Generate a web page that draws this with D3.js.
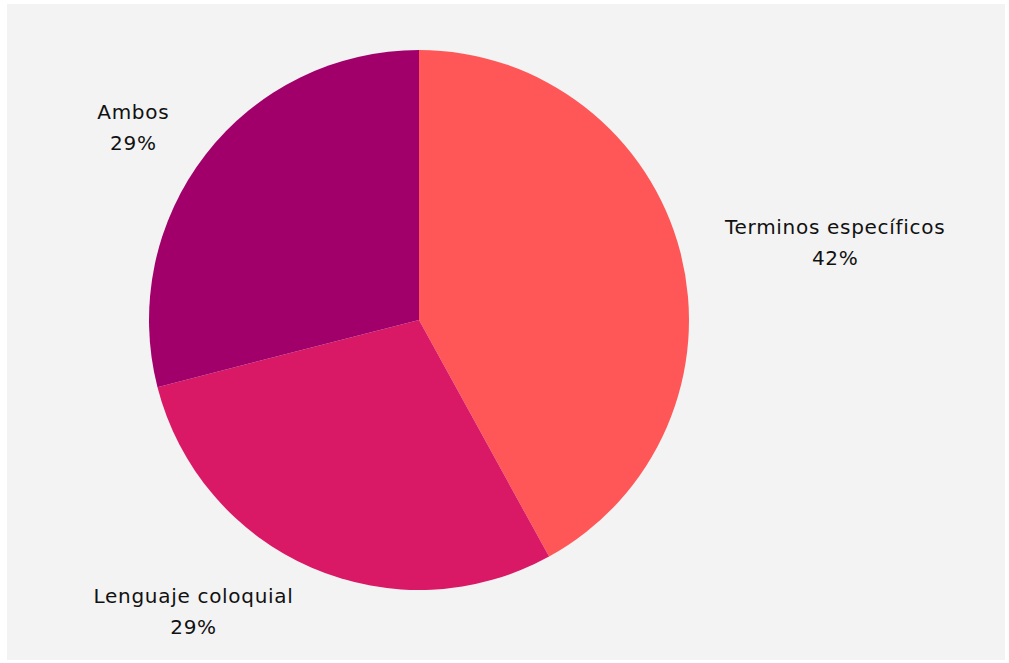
<!DOCTYPE html>
<meta charset="utf-8">
<style>
  body { margin: 0; background: #fff; }
  .label { font-family: "DejaVu Sans", sans-serif; font-size: 20px; letter-spacing: 0.7px; fill: #111; }
</style>
<body>
<svg width="1009" height="663"></svg>
<script src="https://cdn.jsdelivr.net/npm/d3@7"></script>
<script>

var categories = ["Terminos específicos", "Lenguaje coloquial", "Ambos"];
var values = [42, 29, 29];
var colors = ["#ff5757", "#d91866", "#a1006b"];

var svg = d3.select("svg"),
    width = +svg.attr("width"),
    height = +svg.attr("height");

svg.append("rect")
    .attr("x", 7).attr("y", 4)
    .attr("width", 998).attr("height", 656)
    .attr("fill", "#f3f3f3");

var radius = 270,
    cx = 419, cy = 320;

var data = categories.map(function(c, i) { return {name: c, value: values[i], color: colors[i]}; });

var pie = d3.pie().sort(null).value(function(d) { return d.value; });
var arc = d3.arc().innerRadius(0).outerRadius(radius);
var labelArc = d3.arc().innerRadius(316).outerRadius(316);

var g = svg.append("g").attr("transform", "translate(" + cx + "," + cy + ")");

var arcs = pie(data);

g.selectAll("path")
    .data(arcs)
  .enter().append("path")
    .attr("d", arc)
    .attr("fill", function(d) { return d.data.color; });

var total = d3.sum(values);

arcs.forEach(function(d) {
  var p = labelArc.centroid(d);
  var right = p[0] > 0;
  var t = g.append("text").attr("class", "label").attr("text-anchor", "middle");
  var l1 = t.append("tspan").text(d.data.name);
  var l2 = t.append("tspan").text(Math.round(d.data.value / total * 100) + "%");
  var w = Math.max(l1.node().getComputedTextLength(), l2.node().getComputedTextLength());
  var x = right ? p[0] + w / 2 : p[0] - w / 2;
  l1.attr("x", x).attr("y", p[1] - 7);
  l2.attr("x", x).attr("y", p[1] + 24);
});

</script>
</body>
